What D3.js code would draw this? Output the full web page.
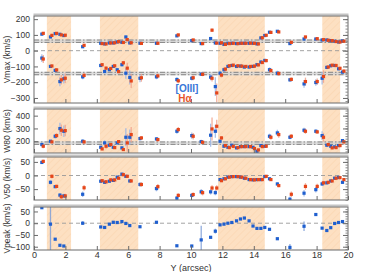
<!DOCTYPE html>
<html lang="en">
<head>
<meta charset="UTF-8" />
<title>Kinematics along slit</title>
<script src="https://d3js.org/d3.v7.min.js"></script>
<style>
    body { margin: 0; background: #fff; font-family: "Liberation Sans", Arial, sans-serif; }
    svg text { font-family: "Liberation Sans", Arial, sans-serif; }
</style>
</head>
<body>
<svg id="chart" width="373" height="272"></svg>
<script>
// slit positions (arcsec)
const xs = [0.5, 1.05, 1.35, 1.65, 1.9, 3.1, 4.25, 4.5, 4.8, 5.05, 5.3, 5.6, 5.85, 6.1, 6.75, 7.8, 9.1, 10.05, 10.65, 11.25, 11.55, 11.85, 12.1, 12.35, 12.6, 12.9, 13.15, 13.4, 13.7, 13.95, 14.2, 14.45, 14.7, 15.0, 15.5, 16.3, 17.2, 17.95, 18.35, 18.65, 18.9, 19.15, 19.4, 19.65];

// shaded regions [start, end]
const bands = [[0.82, 2.36], [4.2, 6.64], [11.72, 14.7], [18.36, 19.5]];

// Vmax, two components
const vmaxHiOIII = [105, 87, 108, 104, 96, 25, 47, 43, 49, 49, 55, 53, 87, 49, 47, 47, 94, 64, 45, 77, 49, 47, 40, 47, 47, 45, 47, 47, 47, 47, 43, 81, 96, 117, 123, 45, 74, 74, 68, 68, 64, 60, 55, 62];
const vmaxHiHa   = [110, 97, 110, 100, 98, 34, 45, 43, 49, 50, 57, 52, 70, 50, 46, 47, 100, 68, 45, 130, 48, 50, 40, 45, 47, 45, 47, 47, 48, 47, 43, 82, 98, 116, 119, 53, 87, 76, 70, 66, 64, 58, 55, 60];
const vmaxHiErr  = [8, 8, 6, 6, 6, 8, 6, 6, 6, 6, 6, 6, 10, 6, 6, 6, 8, 6, 6, 10, 6, 6, 6, 5, 5, 5, 5, 5, 5, 5, 5, 6, 6, 6, 6, 8, 8, 6, 6, 6, 6, 6, 6, 6];
const vmaxLoOIII = [-47, -100, -125, -196, -178, -166, -94, -132, -121, -100, -121, -89, -143, -170, -175, -166, -183, -175, -149, -168, -228, -143, -121, -100, -94, -100, -98, -104, -104, -100, -89, -72, -62, -121, -143, -185, -211, -202, -175, -106, -96, -94, -115, -136];
const vmaxLoHa   = [-53, -97, -122, -185, -175, -157, -89, -111, -113, -96, -133, -77, -111, -192, -172, -160, -191, -172, -150, -175, -268, -155, -117, -96, -92, -96, -98, -100, -100, -98, -90, -75, -63, -126, -145, -182, -196, -196, -164, -104, -92, -94, -112, -130];
const vmaxLoErr  = [25, 10, 12, 30, 30, 15, 10, 12, 10, 8, 10, 12, 35, 45, 25, 15, 15, 15, 12, 20, 60, 15, 12, 10, 8, 8, 8, 8, 8, 8, 8, 8, 10, 15, 15, 12, 25, 20, 40, 10, 8, 8, 10, 12];

// W80
const w80OIII = [174, 200, 239, 299, 278, 200, 153, 187, 169, 153, 187, 148, 231, 231, 221, 218, 278, 244, 197, 247, 278, 200, 161, 153, 169, 148, 158, 158, 158, 153, 122, 166, 161, 239, 265, 231, 286, 278, 244, 169, 161, 156, 166, 205];
const w80Ha   = [161, 195, 244, 286, 283, 195, 140, 161, 174, 150, 197, 135, 187, 252, 226, 213, 291, 239, 192, 296, 317, 226, 166, 150, 160, 150, 158, 158, 158, 143, 132, 158, 161, 231, 252, 239, 278, 273, 231, 174, 148, 150, 166, 195];
const w80Err  = [15, 8, 20, 45, 45, 15, 10, 20, 12, 10, 12, 10, 70, 60, 15, 15, 20, 25, 15, 90, 50, 15, 10, 8, 8, 8, 8, 8, 8, 8, 8, 10, 10, 20, 25, 15, 20, 15, 35, 10, 8, 8, 8, 12];

// V50
const v50OIII = [48, -25, -41, -72, -75, -69, -21, -25, -21, -18, -6, 5, -3, -20, -33, -48, -83, -73, -60, -60, -63, -15, -12, -6, -4, -4, -6, -10, -15, -16, -15, -15, -4, -12, -31, -87, -65, -52, -31, -27, -20, -10, -7, -25];
const v50Ha   = [52, -3, -40, -78, -75, -45, -19, -23, -16, -16, -10, 3, -3, -20, -33, -41, -73, -70, -63, -46, -46, -19, -12, -6, -4, -4, -6, -10, -15, -16, -15, -15, -3, -15, -37, -69, -40, -40, -27, -25, -20, -10, -8, -15];
const v50Err  = [6, 8, 6, 8, 8, 10, 4, 4, 4, 4, 4, 4, 4, 4, 8, 10, 8, 8, 10, 10, 10, 5, 4, 3, 3, 3, 3, 3, 3, 3, 3, 3, 4, 5, 6, 10, 12, 10, 8, 5, 4, 4, 4, 6];

// Vpeak ([OIII] only)
const vpeak    = [66, -4, -68, -94, -97, 0, -16, -18, -4, 4, 3, 7, -1, -10, -15, 4, -96, -97, -71, -60, -34, -7, -4, 0, 3, 10, 18, 22, 10, -12, -22, -22, -18, -26, -66, -103, -13, 37, -21, -31, -19, -1, 3, 7];
const vpeakErr = [3, 120, 3, 3, 3, 8, 3, 3, 3, 3, 3, 3, 3, 3, 3, 3, 3, 3, 60, 3, 10, 3, 3, 3, 3, 3, 3, 3, 3, 3, 3, 3, 3, 3, 3, 15, 20, 5, 3, 3, 3, 3, 3, 3];

const xTicks = [0, 2, 4, 6, 8, 10, 12, 14, 16, 18, 20];

const blue = "#1f5fcf", red = "#e5461a";
const blueErr = "#9db7e6", redErr = "#f2a38c";

const svg = d3.select("#chart");
const x = d3.scaleLinear().domain([0, 20]).range([34, 348]);

// hatch pattern for bands
const defs = svg.append("defs");
const pat = defs.append("pattern")
    .attr("id", "hatch")
    .attr("patternUnits", "userSpaceOnUse")
    .attr("width", 5).attr("height", 5)
    .attr("patternTransform", "rotate(45)");
pat.append("rect").attr("width", 5).attr("height", 5).attr("fill", "#fde0c2");
pat.append("line").attr("x1", 0).attr("y1", 0).attr("x2", 0).attr("y2", 5)
    .attr("stroke", "#f9d3ad").attr("stroke-width", 1);

const panels = [
    { label: "Vmax (km/s)", top: 16, bottom: 103, domain: [-332, 220], ticks: [200, 100, 0, -100, -200, -300], minor: 20,
      dashed: [0], dashdot: [60, -145],
      series: [
          { vals: vmaxHiOIII, err: vmaxHiErr, c: blue, e: blueErr, dx: 0 },
          { vals: vmaxLoOIII, err: vmaxLoErr, c: blue, e: blueErr, dx: 0 },
          { vals: vmaxHiHa, err: vmaxHiErr, c: red, e: redErr, dx: 0.09 },
          { vals: vmaxLoHa, err: vmaxLoErr, c: red, e: redErr, dx: 0.09 }
      ] },
    { label: "W80 (km/s)", top: 109, bottom: 153, domain: [108, 452], ticks: [400, 300, 200], minor: 20,
      dashed: [], dashdot: [185],
      series: [
          { vals: w80OIII, err: w80Err, c: blue, e: blueErr, dx: 0 },
          { vals: w80Ha, err: w80Err, c: red, e: redErr, dx: 0.09 }
      ] },
    { label: "V50 (km/s)", top: 157, bottom: 200, domain: [-90, 68], ticks: [50, 0, -50], minor: 10,
      dashed: [0], dashdot: [],
      series: [
          { vals: v50OIII, err: v50Err, c: blue, e: blueErr, dx: 0 },
          { vals: v50Ha, err: v50Err, c: red, e: redErr, dx: 0.09 }
      ] },
    { label: "Vpeak (km/s)", top: 207, bottom: 250, domain: [-114, 69], ticks: [50, 0, -50, -100], minor: 10,
      dashed: [0], dashdot: [],
      series: [
          { vals: vpeak, err: vpeakErr, c: blue, e: "#7f9fd8", dx: 0 }
      ] }
];

panels.forEach((p, pi) => {
    const y = d3.scaleLinear().domain(p.domain).range([p.bottom, p.top]);
    const g = svg.append("g");
    const clipId = "clip" + pi;
    defs.append("clipPath").attr("id", clipId)
        .append("rect").attr("x", x(0)).attr("y", p.top)
        .attr("width", x(20) - x(0)).attr("height", p.bottom - p.top);

    const inner = g.append("g").attr("clip-path", `url(#${clipId})`);

    inner.selectAll("rect.band").data(bands).join("rect")
        .attr("x", d => x(d[0])).attr("width", d => x(d[1]) - x(d[0]))
        .attr("y", p.top).attr("height", p.bottom - p.top)
        .attr("fill", "url(#hatch)");

    p.dashed.forEach(v => {
        inner.append("line").attr("x1", x(0)).attr("x2", x(20))
            .attr("y1", y(v)).attr("y2", y(v))
            .attr("stroke", "#999").attr("stroke-width", 0.9)
            .attr("stroke-dasharray", "4,3");
    });
    p.dashdot.forEach(v => {
        inner.append("rect").attr("x", x(0)).attr("width", x(20) - x(0))
            .attr("y", y(v) - 1.8).attr("height", 3.6)
            .attr("fill", "#d4d4d4").attr("opacity", 0.8);
        [-1.2, 1.2].forEach(o => {
            inner.append("line").attr("x1", x(0)).attr("x2", x(20))
                .attr("y1", y(v) + o).attr("y2", y(v) + o)
                .attr("stroke", "#7a7a7a").attr("stroke-width", 0.9)
                .attr("stroke-dasharray", "5,2,1.5,2");
        });
    });

    // error bars first, then points
    p.series.forEach(s => {
        inner.append("g").selectAll("line").data(s.vals).join("line")
            .attr("x1", (d, i) => x(xs[i] + s.dx)).attr("x2", (d, i) => x(xs[i] + s.dx))
            .attr("y1", (d, i) => y(d - s.err[i])).attr("y2", (d, i) => y(d + s.err[i]))
            .attr("stroke", s.e).attr("stroke-width", 1.3).attr("opacity", 0.85);
    });
    p.series.forEach(s => {
        inner.append("g").selectAll("rect").data(s.vals).join("rect")
            .attr("x", (d, i) => x(xs[i] + s.dx) - 1.6)
            .attr("y", d => y(d) - 1.6)
            .attr("width", 3.2).attr("height", 3.2)
            .attr("fill", s.c);
    });

    // frame
    g.append("line").attr("x1", x(0) - 0.5).attr("x2", x(20) + 0.5)
        .attr("y1", p.top - 1.5).attr("y2", p.top - 1.5)
        .attr("stroke", "#c4c4c4").attr("stroke-width", 2.2);
    g.append("rect").attr("x", x(0)).attr("y", p.top)
        .attr("width", x(20) - x(0)).attr("height", p.bottom - p.top)
        .attr("fill", "none").attr("stroke", "#6a6a6a").attr("stroke-width", 1);

    // left axis
    const left = g.append("g").attr("transform", `translate(${x(0)},0)`)
        .call(d3.axisLeft(y).tickValues(p.ticks).tickSize(-4).tickPadding(4).tickFormat(d3.format("d")));
    left.select(".domain").remove();
    left.selectAll("line").attr("stroke", "#6a6a6a");
    left.selectAll("text").attr("font-size", 8.5).attr("fill", "#333");

    // right minor ticks
    const minorVals = d3.range(Math.ceil(p.domain[0] / p.minor) * p.minor, p.domain[1], p.minor);
    const right = g.append("g").attr("transform", `translate(${x(20)},0)`)
        .call(d3.axisRight(y).tickValues(minorVals).tickSize(-2.5).tickFormat(""));
    right.select(".domain").remove();
    right.selectAll("line").attr("stroke", "#8a8a8a");
    const rightMaj = g.append("g").attr("transform", `translate(${x(20)},0)`)
        .call(d3.axisRight(y).tickValues(p.ticks).tickSize(-5).tickFormat(""));
    rightMaj.select(".domain").remove();
    rightMaj.selectAll("line").attr("stroke", "#6a6a6a");

    // bottom ticks
    const bottom = g.append("g").attr("transform", `translate(0,${p.bottom})`)
        .call(d3.axisBottom(x).tickValues(xTicks).tickSize(-4).tickPadding(2)
            .tickFormat(pi === panels.length - 1 ? d3.format("d") : ""));
    bottom.select(".domain").remove();
    bottom.selectAll("line").attr("stroke", "#6a6a6a");
    bottom.selectAll("text").attr("font-size", 9).attr("fill", "#333");

    // y title
    svg.append("text")
        .attr("transform", `translate(10,${(p.top + p.bottom) / 2}) rotate(-90)`)
        .attr("text-anchor", "middle")
        .attr("font-size", 8.5).attr("fill", "#333")
        .text(p.label);
});

svg.append("text").attr("x", 191).attr("y", 270.5)
    .attr("text-anchor", "middle").attr("font-size", 9).attr("fill", "#333")
    .text("Y (arcsec)");

// legend
svg.append("text").attr("x", 187).attr("y", 92).attr("text-anchor", "middle")
    .attr("font-size", 10).attr("font-weight", "bold").attr("fill", "#3a78d8").text("[OIII]");
svg.append("text").attr("x", 185).attr("y", 102).attr("text-anchor", "middle")
    .attr("font-size", 10).attr("font-weight", "bold").attr("fill", "#e8552a").text("Hα");
</script>
</body>
</html>
